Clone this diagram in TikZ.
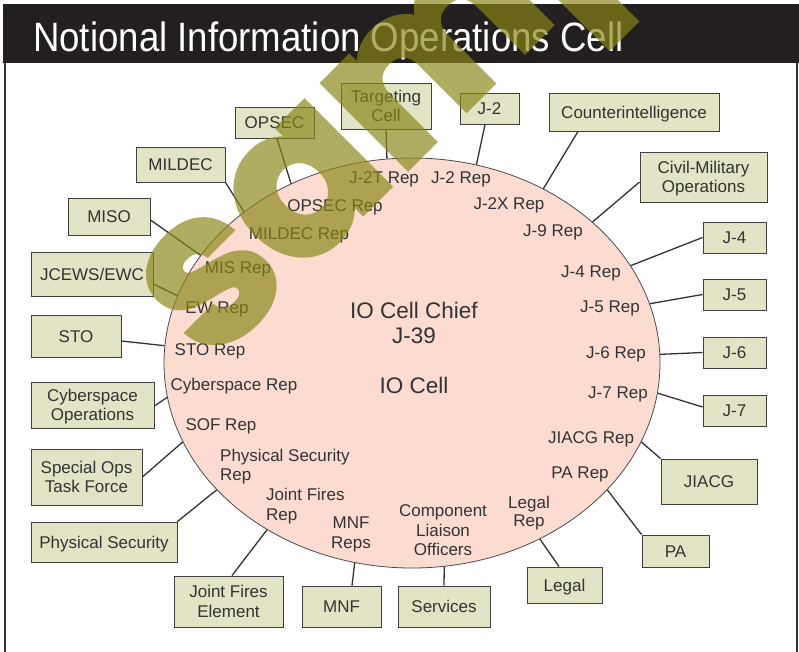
\documentclass[tikz,border=0pt]{standalone}
\usepackage{fontspec}
\setmainfont{Liberation Sans}
\newfontfamily\stampfont{Poppins}[BoldFeatures={FakeBold=2.5}]
\usetikzlibrary{shapes.geometric}
\definecolor{barblack}{HTML}{231F20}
\definecolor{boxfill}{HTML}{E3E4C5}
\definecolor{cellfill}{HTML}{FCDCD0}
\definecolor{inkgray}{HTML}{333333}
\definecolor{stamp}{RGB}{137,135,23}

\begin{document}
\begin{tikzpicture}[x=1pt,y=-1pt,
  box/.style={draw=black!75, line width=0.9pt, fill=boxfill, text=inkgray,
    align=center, inner sep=0pt, font=\fontsize{17}{19.5}\selectfont},
  one/.style={text height=12.2pt, text depth=0pt},
  two/.style={text height=31.7pt, text depth=0pt},
  three/.style={text height=51.2pt, text depth=0pt},
  rep/.style={text=inkgray, align=center, inner sep=0pt,
    font=\fontsize{17}{19.5}\selectfont},
  chief/.style={text=inkgray, align=center, inner sep=0pt,
    font=\fontsize{22.5}{25}\selectfont},
  link/.style={draw=black!80, line width=1.3pt}]

\useasboundingbox (0,0) rectangle (799,652);
\fill[white] (0,0) rectangle (799,652);

% header bar and frame
\fill[barblack] (3,4) rectangle (799,63);
\draw[black!80, line width=2pt] (5,63) -- (5,652);
\draw[black!80, line width=2pt] (797,63) -- (797,652);
\node[anchor=base west, inner sep=0pt, text=white] (title) at (33,52)
  {\scalebox{0.893}[1]{\fontsize{41}{41}\selectfont Notional Information Operations Cell}};

% the cell itself
\node[ellipse, draw=black!70, line width=0.8pt, fill=cellfill,
  minimum width=496pt, minimum height=410pt, inner sep=0pt] (cell) at (412,363) {};

% representatives inside the cell
\node[rep, one] (r-j2t)   at (384,177) {J-2T Rep};
\node[rep, one] (r-j2)    at (461,177) {J-2 Rep};
\node[rep, one] (r-j2x)   at (509,203) {J-2X Rep};
\node[rep, one] (r-j9)    at (553,230) {J-9 Rep};
\node[rep, one] (r-j4)    at (591,271) {J-4 Rep};
\node[rep, one] (r-j5)    at (610,306) {J-5 Rep};
\node[rep, one] (r-j6)    at (616,352) {J-6 Rep};
\node[rep, one] (r-j7)    at (618,392) {J-7 Rep};
\node[rep, one] (r-jiacg) at (591,437) {JIACG Rep};
\node[rep, one] (r-pa)    at (580,472) {PA Rep};
\node[rep, two, font=\fontsize{17}{18}\selectfont, text height=30.2pt] (r-legal) at (529,511) {Legal\\Rep};
\node[rep, three] (r-clo) at (443,530) {Component\\Liaison\\Officers};
\node[rep, two] (r-mnf)   at (351,532.5) {MNF\\Reps};
\node[rep, two, align=left, anchor=west] (r-jf) at (266,504.5) {Joint Fires\\Rep};
\node[rep, two, align=left, anchor=west] (r-ps) at (220,465) {Physical Security\\Rep};
\node[rep, one] (r-sof)   at (221,424) {SOF Rep};
\node[rep, one] (r-cyber) at (234,384) {Cyberspace Rep};
\node[rep, one] (r-sto)   at (210,349) {STO Rep};
\node[rep, one] (r-ew)    at (217,307) {EW Rep};
\node[rep, one] (r-mis)   at (238,267) {MIS Rep};
\node[rep, one] (r-mildec) at (299,233) {MILDEC Rep};
\node[rep, one] (r-opsec) at (335,205) {OPSEC Rep};
\node[chief, text height=41.1pt, text depth=0pt] (chief) at (414,322.5) {IO Cell Chief\\J-39};
\node[chief, text height=16.1pt, text depth=0pt] (iocell) at (414,385) {IO Cell};

% outside organizations
\node[box, one, minimum width=170pt, minimum height=38pt] (ci)     at (634,112)    {Counterintelligence};
\node[box, two, minimum width=127pt, minimum height=50pt] (cmo)    at (703.5,177)  {Civil-Military\\Operations};
\node[box, one, minimum width=63pt,  minimum height=31pt] (j4)     at (734.5,237.5){J-4};
\node[box, one, minimum width=63pt,  minimum height=31pt] (j5)     at (734.5,294.5){J-5};
\node[box, one, minimum width=63pt,  minimum height=31pt] (j6)     at (734.5,352.5){J-6};
\node[box, one, minimum width=63pt,  minimum height=31pt] (j7)     at (734.5,410.5){J-7};
\node[box, one, minimum width=96pt,  minimum height=45pt] (jiacg)  at (709,481.5)  {JIACG};
\node[box, one, minimum width=67pt,  minimum height=32pt] (pa)     at (675.5,551)  {PA};
\node[box, one, minimum width=75pt,  minimum height=36pt] (legal)  at (564.5,585)  {Legal};
\node[box, one, minimum width=92pt,  minimum height=41pt] (svc)    at (444,606.5)  {Services};
\node[box, one, minimum width=79pt,  minimum height=41pt] (mnf)    at (341.5,606.5){MNF};
\node[box, two, minimum width=109pt, minimum height=51pt] (jfe)    at (228.5,601.5){Joint Fires\\Element};
\node[box, one, minimum width=146pt, minimum height=40pt] (physec) at (104,542)    {Physical Security};
\node[box, two, minimum width=111pt, minimum height=56pt] (sotf)   at (86.5,477)   {Special Ops\\Task Force};
\node[box, two, minimum width=123pt, minimum height=46pt] (cyber)  at (92.5,405)   {Cyberspace\\Operations};
\node[box, one, minimum width=90pt,  minimum height=42pt] (sto)    at (76,336)     {STO};
\node[box, one, minimum width=122pt, minimum height=44pt] (jcews)  at (92,274)     {JCEWS/EWC};
\node[box, one, minimum width=82pt,  minimum height=37pt] (miso)   at (109,216.5)  {MISO};
\node[box, one, minimum width=89pt,  minimum height=35pt] (mildec) at (180.5,164.5){MILDEC};
\node[box, one, minimum width=79pt,  minimum height=31pt] (opsec)  at (274.5,122.5){OPSEC};
\node[box, two, minimum width=90pt,  minimum height=46pt] (tc)     at (386,106)    {Targeting\\Cell};
\node[box, one, minimum width=59pt,  minimum height=31pt] (j2)     at (489.5,108.5){J-2};

% links from each organization to the cell rim
\draw[link] ([xshift=-56pt]ci.south)    -- (cell.53.7);
\draw[link] ([yshift=-5pt]cmo.west)     -- (cell.38.9);
\draw[link] (j4.west)                   -- (cell.24.7);
\draw[link] (j5.west)                   -- (cell.14.2);
\draw[link] (j6.west)                   -- (cell.2.5);
\draw[link] ([yshift=3.5pt]j7.west)     -- (cell.-7.9);
\draw[link] (jiacg.north west)          -- (cell.-19.9);
\draw[link] (pa.north west)             -- (cell.-33.4);
\draw[link] ([xshift=-5.5pt]legal.north) -- (cell.-54.6);
\draw[link] (svc.north)                 -- (cell.-81.4);
\draw[link] ([xshift=10.5pt]mnf.north)  -- (cell.-106.8);
\draw[link] ([xshift=3.5pt]jfe.north)   -- (cell.-131.1);
\draw[link] (physec.north east)         -- (cell.-147.7);
\draw[link] (sotf.east)                 -- (cell.-161.4);
\draw[link] ([yshift=-1pt]cyber.east)   -- (cell.-172.1);
\draw[link] ([yshift=-5pt]sto.east)     -- (cell.176.5);
\draw[link] ([yshift=-10pt]jcews.east)  -- (cell.164.2);
\draw[link] ([yshift=-3.5pt]miso.east)  -- (cell.153.4);
\draw[link] (mildec.south east)         -- (cell.138.1);
\draw[link] ([xshift=2.5pt]opsec.south) -- (cell.124.0);
\draw[link] (tc.south)                  -- (cell.97.3);
\draw[link] ([xshift=-4.5pt]j2.south)   -- (cell.72.7);

% stamp across the sheet, blended as one layer
\begin{scope}[transparency group, opacity=0.68]
  \node[rotate=45, text=stamp, inner sep=0pt,
    font=\stampfont\bfseries\fontsize{215}{215}\selectfont] (stampword) at (470,34) {sample};
\end{scope}
\end{tikzpicture}
\end{document}
